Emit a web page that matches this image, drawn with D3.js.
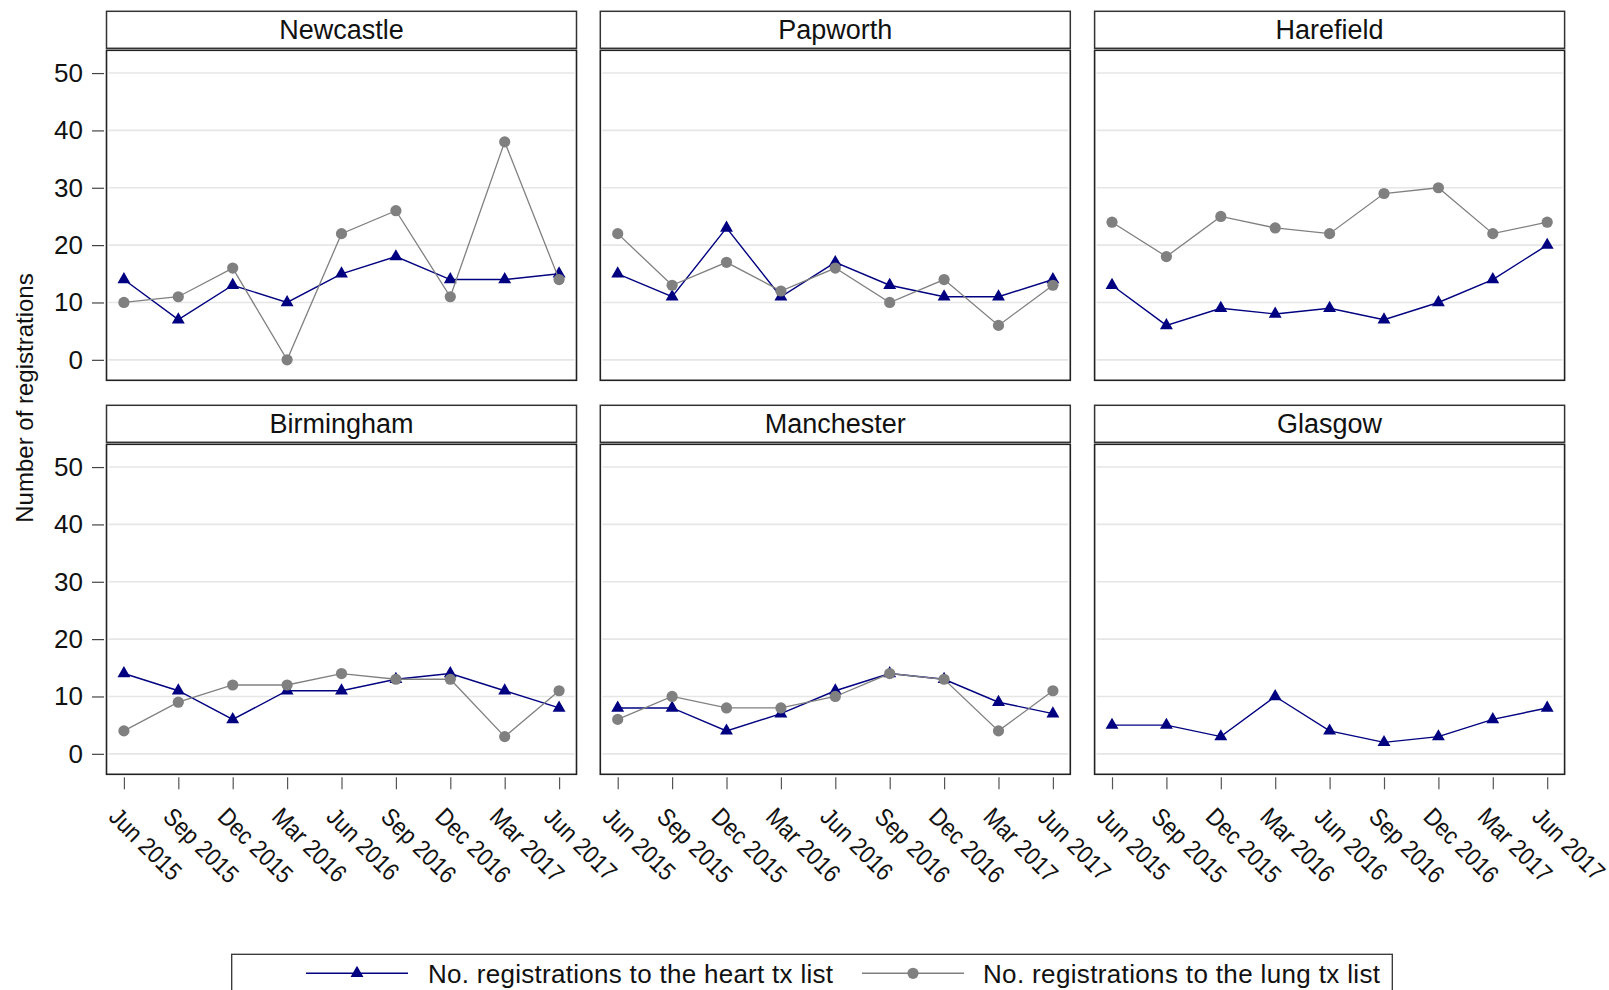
<!DOCTYPE html>
<html><head><meta charset="utf-8">
<script src="https://cdn.jsdelivr.net/npm/d3@7/dist/d3.min.js"></script>
<style>body{margin:0;background:#fff}svg{display:block;font-family:"Liberation Sans",Arial,sans-serif}</style>
</head><body><svg id="c" width="1609" height="990"></svg>
<script>
const quarters = ["Jun 2015","Sep 2015","Dec 2015","Mar 2016","Jun 2016","Sep 2016","Dec 2016","Mar 2017","Jun 2017"];
const centres = ["Newcastle","Papworth","Harefield","Birmingham","Manchester","Glasgow"];
const heartNewcastle  = [14, 7, 13, 10, 15, 18, 14, 14, 15];
const lungNewcastle   = [10, 11, 16, 0, 22, 26, 11, 38, 14];
const heartPapworth   = [15, 11, 23, 11, 17, 13, 11, 11, 14];
const lungPapworth    = [22, 13, 17, 12, 16, 10, 14, 6, 13];
const heartHarefield  = [13, 6, 9, 8, 9, 7, 10, 14, 20];
const lungHarefield   = [24, 18, 25, 23, 22, 29, 30, 22, 24];
const heartBirmingham = [14, 11, 6, 11, 11, 13, 14, 11, 8];
const lungBirmingham  = [4, 9, 12, 12, 14, 13, 13, 3, 11];
const heartManchester = [8, 8, 4, 7, 11, 14, 13, 9, 7];
const lungManchester  = [6, 10, 8, 8, 10, 14, 13, 4, 11];
const heartGlasgow    = [5, 5, 3, 10, 4, 2, 3, 6, 8];
const lungGlasgow     = null;
const yTicks = [0, 10, 20, 30, 40, 50];
const yTitle = "Number of registrations";
const legendLabels = ["No. registrations to the heart tx list", "No. registrations to the lung tx list"];

const heartSeries = [heartNewcastle, heartPapworth, heartHarefield, heartBirmingham, heartManchester, heartGlasgow];
const lungSeries = [lungNewcastle, lungPapworth, lungHarefield, lungBirmingham, lungManchester, lungGlasgow];

const HEART = "#000080", LUNG = "#808080", GRID = "#e6e6e6", FRAME = "#222";
const svg = d3.select("#c");
const panelW = 470, panelH = 330, stripH = 37;
const colX = [106.5, 600.3, 1094.6];
const rowY = [50.3, 444.3];

const x = d3.scalePoint().domain(quarters).range([0, panelW]).padding(0.32);
const y = d3.scaleLinear().domain([-3.57, 53.97]).range([panelH, 0]);
const triangle = d3.symbol().type(d3.symbolTriangle).size(72);
const line = d3.line().x((d, i) => x(quarters[i])).y(d => y(d));

centres.forEach((name, k) => {
  const r = Math.floor(k / 3), c = k % 3;
  const g = svg.append("g").attr("transform", `translate(${colX[c]},${rowY[r]})`);

  // strip
  g.append("rect").attr("x", 0).attr("y", -stripH - 2).attr("width", panelW).attr("height", stripH)
    .attr("fill", "#fff").attr("stroke", "#333").attr("stroke-width", 1.5);
  g.append("text").attr("x", panelW / 2).attr("y", -stripH / 2 - 2 + 9.5)
    .attr("text-anchor", "middle").attr("font-size", 27).attr("fill", "#111").text(name);

  // panel
  g.append("rect").attr("width", panelW).attr("height", panelH).attr("fill", "#fff");
  g.selectAll("line.grid").data(yTicks).join("line").attr("class", "grid")
    .attr("x1", 2).attr("x2", panelW - 2).attr("y1", d => y(d)).attr("y2", d => y(d))
    .attr("stroke", GRID).attr("stroke-width", 1.6);

  const heart = heartSeries[k], lung = lungSeries[k];
  g.append("path").datum(heart).attr("d", line).attr("fill", "none").attr("stroke", HEART).attr("stroke-width", 1.4);
  g.selectAll("path.tri").data(heart).join("path").attr("class", "tri")
    .attr("d", triangle).attr("fill", HEART)
    .attr("transform", (d, i) => `translate(${x(quarters[i])},${y(d)})`);
  if (lung) {
    g.append("path").datum(lung).attr("d", line).attr("fill", "none").attr("stroke", LUNG).attr("stroke-width", 1.3);
    g.selectAll("circle.pt").data(lung).join("circle").attr("class", "pt")
      .attr("cx", (d, i) => x(quarters[i])).attr("cy", d => y(d)).attr("r", 5.6).attr("fill", LUNG);
  }

  g.append("rect").attr("width", panelW).attr("height", panelH).attr("fill", "none")
    .attr("stroke", FRAME).attr("stroke-width", 1.6);

  // y axis
  if (c === 0) {
    const ya = g.append("g").attr("transform", "translate(-2.5,0)")
      .call(d3.axisLeft(y).tickValues(yTicks).tickSize(12).tickPadding(9));
    ya.select(".domain").remove();
    ya.selectAll(".tick line").attr("stroke", "#444").attr("stroke-width", 1.2);
    ya.selectAll(".tick text").attr("font-size", 26).attr("font-family", "Liberation Sans, Arial, sans-serif").attr("fill", "#111");
  }
  // x axis
  if (r === 1) {
    const xa = g.append("g").attr("transform", `translate(0,${panelH + 3})`)
      .call(d3.axisBottom(x).tickSize(12));
    xa.select(".domain").remove();
    xa.selectAll(".tick line").attr("stroke", "#555").attr("stroke-width", 1.2);
    xa.selectAll(".tick text").attr("font-size", 25).attr("font-family", "Liberation Sans, Arial, sans-serif")
      .attr("fill", "#111").attr("text-anchor", "start").attr("x", 0).attr("y", 0).attr("dy", 0)
      .attr("transform", "translate(-17,41) rotate(45) scale(0.88,1)");
  }
});

// y title
svg.append("text").attr("transform", "translate(33,398) rotate(-90)").attr("text-anchor", "middle")
  .attr("font-size", 24).attr("fill", "#111").text(yTitle);

// legend
const lg = svg.append("g");
lg.append("rect").attr("x", 231.7).attr("y", 954.3).attr("width", 1160.6).attr("height", 60)
  .attr("fill", "#fff").attr("stroke", "#333").attr("stroke-width", 1.3);
const legendItems = [
  {label: legendLabels[0], color: HEART, x0: 306, x1: 408, tx: 428, len: 405, sym: "tri"},
  {label: legendLabels[1], color: LUNG, x0: 862, x1: 964, tx: 983, len: 397, sym: "circ"}
];
legendItems.forEach(it => {
  lg.append("line").attr("x1", it.x0).attr("x2", it.x1).attr("y1", 973.3).attr("y2", 973.3)
    .attr("stroke", it.color).attr("stroke-width", 1.4);
  const mx = (it.x0 + it.x1) / 2;
  if (it.sym === "tri") lg.append("path").attr("d", triangle).attr("fill", it.color).attr("transform", `translate(${mx},973.3)`);
  else lg.append("circle").attr("cx", mx).attr("cy", 973.3).attr("r", 5.6).attr("fill", it.color);
  lg.append("text").attr("x", it.tx).attr("y", 983).attr("font-size", 26).attr("fill", "#111")
    .attr("textLength", it.len).attr("lengthAdjust", "spacing").text(it.label);
});
</script></body></html>
